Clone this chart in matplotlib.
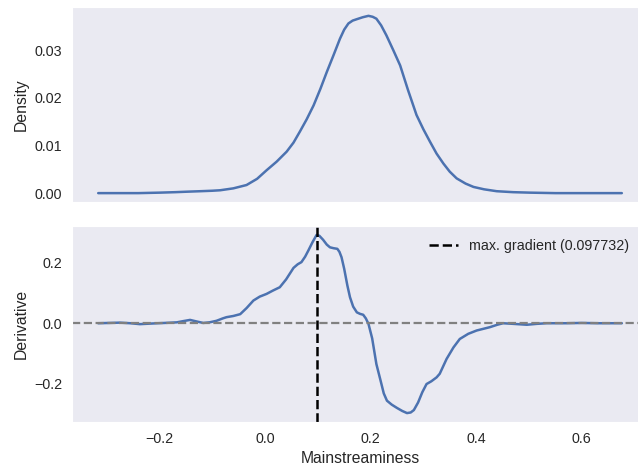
import numpy as np
import matplotlib
matplotlib.use("Agg")
import matplotlib.pyplot as plt
import seaborn as sns

sns.set_style("dark")
plt.rcParams['font.family'] = ['Liberation Sans', 'DejaVu Sans']

# KDE of mainstreaminess
density_x = [-0.316, -0.28, -0.24, -0.20, -0.17, -0.148, -0.123, -0.10, -0.085, -0.06,
             -0.035, -0.015, 0.003, 0.022, 0.041, 0.054, 0.066, 0.079, 0.092, 0.105,
             0.117, 0.130, 0.142, 0.150, 0.158, 0.166, 0.174, 0.185, 0.196, 0.204,
             0.211, 0.220, 0.230, 0.243, 0.256, 0.271, 0.287, 0.300, 0.3125, 0.325,
             0.338, 0.350, 0.363, 0.380, 0.395, 0.415, 0.439, 0.47, 0.502, 0.55,
             0.60, 0.676]
density_y = [0.0000, 0.0000, 0.0000, 0.0001, 0.0002, 0.0003, 0.0004, 0.0005, 0.0006, 0.0010,
             0.0017, 0.0030, 0.0048, 0.0066, 0.0087, 0.0106, 0.0129, 0.0155, 0.0184, 0.0219,
             0.0254, 0.0290, 0.0324, 0.0343, 0.0356, 0.0362, 0.0365, 0.0369, 0.0372, 0.0370,
             0.0366, 0.0352, 0.0331, 0.0300, 0.0268, 0.0216, 0.0164, 0.0134, 0.0108, 0.0083,
             0.0062, 0.0045, 0.0031, 0.0020, 0.0013, 0.0008, 0.0004, 0.0002, 0.0001, 0.0000,
             0.0000, 0.0000]

# derivative of the KDE
max_grad = 0.097732
deriv_x = [-0.316, -0.295, -0.275, -0.255, -0.237, -0.215, -0.19, -0.167, -0.155, -0.142,
           -0.130, -0.117, -0.105, -0.092, -0.080, -0.073, -0.060, -0.047, -0.035, -0.022,
           -0.010, 0.003, 0.015, 0.028, 0.040, 0.054, 0.062, 0.069, 0.076, 0.082,
           0.090, max_grad, 0.103, 0.110, 0.117, 0.123, 0.130, 0.137, 0.141, 0.145,
           0.150, 0.156, 0.161, 0.167, 0.174, 0.180, 0.186, 0.191, 0.196, 0.203,
           0.211, 0.219, 0.225, 0.231, 0.240, 0.250, 0.260, 0.269, 0.276, 0.282,
           0.290, 0.298, 0.306, 0.315, 0.325, 0.331, 0.344, 0.357, 0.369, 0.385,
           0.401, 0.426, 0.440, 0.451, 0.470, 0.496, 0.515, 0.534, 0.57, 0.60,
           0.63, 0.676]
deriv_y = [0.000, 0.001, 0.002, 0.000, -0.003, -0.001, 0.001, 0.003, 0.007, 0.011,
           0.006, 0.001, 0.003, 0.008, 0.016, 0.020, 0.024, 0.030, 0.050, 0.075,
           0.088, 0.097, 0.108, 0.119, 0.145, 0.183, 0.195, 0.202, 0.220, 0.240,
           0.268, 0.292, 0.289, 0.276, 0.260, 0.251, 0.248, 0.246, 0.236, 0.218,
           0.180, 0.125, 0.086, 0.055, 0.036, 0.031, 0.028, 0.016, -0.002, -0.050,
           -0.135, -0.190, -0.232, -0.256, -0.269, -0.280, -0.290, -0.297, -0.295, -0.287,
           -0.262, -0.228, -0.201, -0.192, -0.179, -0.167, -0.118, -0.080, -0.052, -0.035,
           -0.024, -0.013, -0.005, 0.000, -0.002, -0.005, -0.002, 0.000, 0.000, 0.001,
           0.000, 0.000]

fig = plt.figure(figsize=(6.38, 4.68), dpi=100)
ax1 = fig.add_axes([0.1129, 0.5684, 0.9028, 0.4167])
ax2 = fig.add_axes([0.1129, 0.0983, 0.9028, 0.4188], sharex=ax1)

blue = sns.color_palette("deep")[0]

ax1.plot(density_x, density_y, color=blue, lw=1.8)
ax1.set_ylabel("Density", fontsize=11.3)
ax1.set_yticks([0.0, 0.01, 0.02, 0.03])
ax1.tick_params(labelbottom=False, labelsize=10.3)

ax2.plot(deriv_x, deriv_y, color=blue, lw=1.8)
ax2.axhline(0, color="gray", ls="--", lw=1.6)
ax2.axvline(max_grad, color="black", ls="--", lw=1.8,
            label=f"max. gradient ({max_grad})")
ax2.set_ylabel("Derivative", fontsize=11.3)
ax2.set_xlabel("Mainstreaminess", fontsize=11.3)
ax2.set_yticks([-0.2, 0.0, 0.2])
ax2.set_xticks([-0.2, 0.0, 0.2, 0.4, 0.6])
ax2.tick_params(labelsize=10.3)
# axes run past the right edge of the figure, so pin the legend inside it
ax2.legend(loc="upper right", frameon=False, fontsize=10.3,
           bbox_to_anchor=(0.99, 1.0))

fig.savefig("out.png", dpi=100)
